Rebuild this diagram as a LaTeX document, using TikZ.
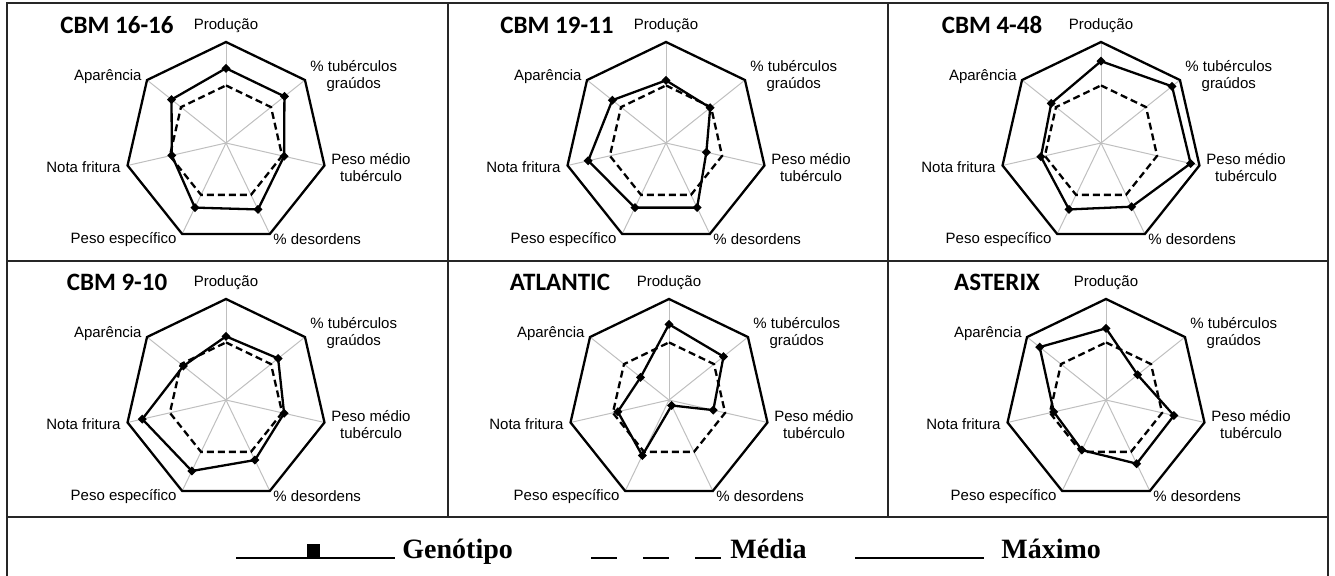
\documentclass[tikz,border=0pt]{standalone}
\usepackage{fontspec}
\setmainfont{Liberation Sans}
\newfontfamily\ttlfont{Carlito}
\newfontfamily\legfont{Liberation Serif}
\usepackage{tikz}
\usetikzlibrary{positioning}

\begin{document}
\begin{tikzpicture}[x=0.5pt,y=0.5pt,
  spoke/.style={gray!50,line width=0.5pt},
  maxline/.style={black,line width=1.15pt},
  medline/.style={black,line width=1.15pt,dash pattern=on 3.5pt off 2pt},
  genline/.style={black,line width=1.15pt},
  lbl/.style={font=\fontsize{7.5}{8.5}\selectfont,inner sep=0pt,align=center},
  ttl/.style={font=\ttlfont\bfseries\fontsize{12.5}{14}\selectfont,inner sep=0pt,anchor=base},
  legtxt/.style={font=\legfont\bfseries\fontsize{14}{16}\selectfont,inner sep=0pt},
  frame/.style={black!85,line width=1pt}]
\useasboundingbox (0,0) rectangle (1335,-575);
\def\R{101}
\def\M{0.57}
\def\radar#1#2#3#4{%
  \begin{scope}[shift={(#2)}]
    \foreach \i in {0,...,6} \draw[spoke] (0,0) -- ({90-\i*360/7}:\R);
    \draw[maxline] (90:\R) \foreach \i in {1,...,6}{ -- ({90-\i*360/7}:\R)} -- cycle;
    \draw[medline] (90:\M*\R) \foreach \i in {1,...,6}{ -- ({90-\i*360/7}:\M*\R)} -- cycle;
    \foreach \v [count=\i from 0] in {#4} \coordinate (#1g\i) at ({90-\i*360/7}:\v*\R);
    \draw[genline] (#1g0) -- (#1g1) -- (#1g2) -- (#1g3) -- (#1g4) -- (#1g5) -- (#1g6) -- cycle;
    \foreach \i in {0,...,6} \fill (#1g\i) +(4.5,0) -- +(0,4.5) -- +(-4.5,0) -- +(0,-4.5) -- cycle;
    \node[ttl] (#1t) at (-109,110) {#3};
    \node[lbl,anchor=base] (#1l0) at (0,114) {Produção};
    \node[lbl,anchor=west] (#1l1) at (84,67) {\% tubérculos\\graúdos};
    \node[lbl,anchor=west] (#1l2) at (105,-25) {Peso médio\\tubérculo};
    \node[lbl,anchor=west] (#1l3) at (47,-96) {\% desordens};
    \node[lbl,anchor=east] (#1l4) at (-49,-97) {Peso específico};
    \node[lbl,anchor=east] (#1l5) at (-105,-24) {Nota fritura};
    \node[lbl,anchor=east] (#1l6) at (-84,66) {Aparência};
  \end{scope}}

% frame
\draw[frame] (7,-580) -- (7,-3) -- (1328,-3) -- (1328,-580);
\draw[frame] (7,-261) -- (1328,-261);
\draw[frame] (7,-517) -- (1328,-517);
\draw[frame] (448,-3) -- (448,-517);
\draw[frame] (888,-3) -- (888,-517);

% panels
\radar{pa}{226,-143}{CBM 16-16}{0.74,0.74,0.59,0.73,0.71,0.55,0.69}
\radar{pb}{666,-143}{CBM 19-11}{0.62,0.56,0.41,0.71,0.71,0.79,0.68}
\radar{pc}{1101,-143}{CBM 4-48}{0.81,0.90,0.91,0.70,0.73,0.61,0.63}
\radar{pd}{226,-400}{CBM 9-10}{0.63,0.66,0.59,0.66,0.78,0.85,0.54}
\radar{pe}{669,-400}{ATLANTIC}{0.75,0.69,0.45,0.06,0.61,0.52,0.36}
\radar{pf}{1106,-400}{ASTERIX}{0.71,0.40,0.69,0.70,0.55,0.53,0.84}

% legend
\coordinate (ga) at (236,-558);
\coordinate (gb) at (395,-558);
\draw[black,line width=1.1pt] (ga) -- (gb);
\node[fill=black,inner sep=0pt,minimum width=6.5pt,minimum height=7pt,anchor=south] (gsq) at (313.5,-558) {};
\node[legtxt,right=3.5pt of gb,anchor=base west] (leggen) {Genótipo};
\coordinate (ma) at (591,-558);
\coordinate (mb) at (722,-558);
\draw[black,line width=1.3pt,dash pattern=on 13pt off 13pt] (ma) -- (mb);
\node[legtxt,right=4pt of mb,anchor=base west] (legmed) {Média};
\coordinate (xa) at (855,-558);
\coordinate (xb) at (984,-558);
\draw[black,line width=1.1pt] (xa) -- (xb);
\node[legtxt,right=8.5pt of xb,anchor=base west] (legmax) {Máximo};
\end{tikzpicture}
\end{document}
